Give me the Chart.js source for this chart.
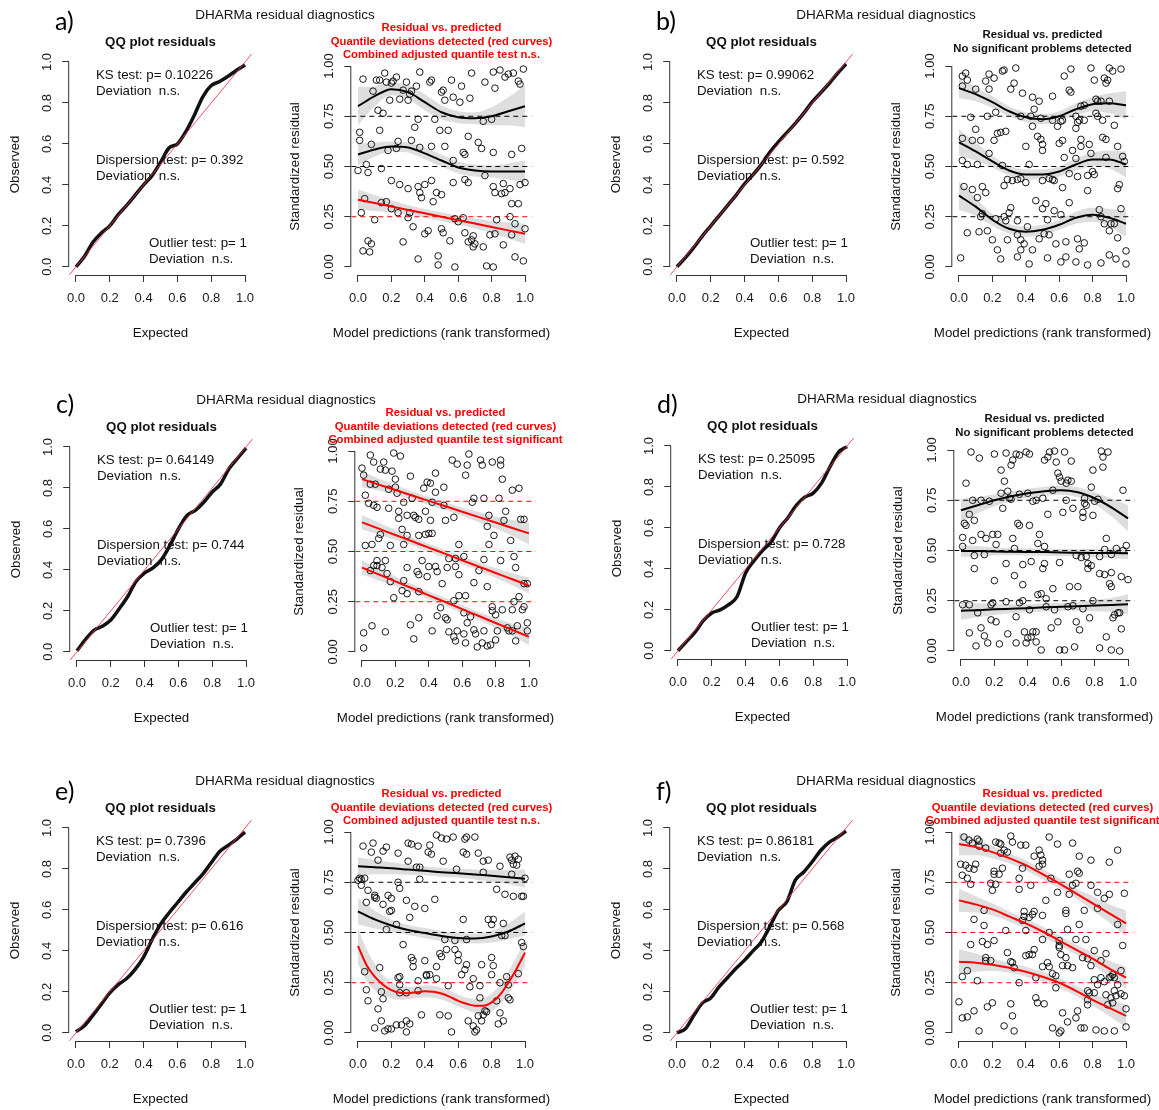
<!DOCTYPE html>
<html lang="en">
<head>
<meta charset="utf-8">
<title>DHARMa residual diagnostics</title>
<script src="https://cdn.jsdelivr.net/npm/chart.js@4.4.1/dist/chart.umd.min.js"></script>
<style>
  html, body { margin: 0; padding: 0; background: #fff; }
  body { width: 1159px; height: 1110px; position: relative; overflow: hidden; font-family: 'Liberation Sans', Arial, sans-serif; color: #111; }
  .panel { position: absolute; width: 560px; height: 345px; }
  .panel canvas { position: absolute; top: 0; }
  .label { position: absolute; white-space: pre; }
  .tag { font-family: Lato, 'Noto Sans', sans-serif; font-size: 25px; line-height: 28px; color: #000; }
  .header { font-size: 13.5px; line-height: 16px; transform: translateX(-50%); }
  .qqTitle { font-size: 13.3px; font-weight: bold; line-height: 16px; transform: translateX(-50%); }
  .resTitle { font-size: 11.3px; font-weight: bold; line-height: 13.5px; text-align: center; transform: translateX(-50%); }
  .axisTitle { font-size: 13.3px; line-height: 16px; transform: translateX(-50%); }
  .note { font-size: 13.3px; line-height: 16px; }
</style>
</head>
<body>
<script>
const AXIS_MIN = -0.04;
const AXIS_MAX = 1.04;
const FONT = "'Liberation Sans', Arial, sans-serif";

const qqExpected = [0, 0.05, 0.1, 0.15, 0.2, 0.25, 0.3, 0.35, 0.4, 0.45, 0.5, 0.55, 0.6, 0.65, 0.7, 0.75, 0.8, 0.85, 0.9, 0.95, 1];
const curveX = [0, 0.1, 0.2, 0.3, 0.4, 0.5, 0.6, 0.7, 0.8, 0.9, 1];
const qqTicks = [0, 0.2, 0.4, 0.6, 0.8, 1];
const resTicks = [0, 0.25, 0.5, 0.75, 1];
const quantileLevels = [0.25, 0.5, 0.75];

// a)
const aTests = ['0.10226', '0.392', '1'];
const aFlagged = [true, false, false];
const aCombined = 'n.s.';
const aQQ = [0, 0.05, 0.12, 0.165, 0.2, 0.255, 0.3, 0.35, 0.4, 0.445, 0.51, 0.58, 0.6, 0.66, 0.74, 0.83, 0.885, 0.905, 0.93, 0.96, 0.985];
const aQ25 = [0.335, 0.318, 0.301, 0.284, 0.267, 0.25, 0.233, 0.216, 0.199, 0.182, 0.165];
const aQ50 = [0.56, 0.585, 0.6, 0.595, 0.565, 0.53, 0.495, 0.48, 0.475, 0.475, 0.475];
const aQ75 = [0.8, 0.85, 0.885, 0.87, 0.82, 0.77, 0.745, 0.74, 0.75, 0.775, 0.8];
const aQ25Band = [0.05, 0.04, 0.03, 0.025, 0.022, 0.022, 0.022, 0.025, 0.03, 0.04, 0.05];
const aQ50Band = [0.055, 0.035, 0.025, 0.025, 0.03, 0.03, 0.03, 0.03, 0.03, 0.04, 0.055];
const aQ75Band = [0.095, 0.05, 0.03, 0.035, 0.04, 0.035, 0.03, 0.03, 0.045, 0.07, 0.105];
const aResiduals = [
  [0.03,0.935],[0.11,0.93],[0.13,0.93],[0.16,0.965],[0.17,0.92],[0.2,0.915],[0.21,0.925],[0.23,0.945],[0.29,0.92],[0.37,0.97],
  [0.43,0.92],[0.44,0.93],[0.51,0.88],[0.56,0.93],[0.62,0.9],[0.68,0.965],[0.76,0.92],[0.81,0.97],[0.85,0.98],[0.82,0.89],
  [0.9,0.96],[0.93,0.965],[0.96,0.925],[0.99,0.985],[0.88,0.945],[0.97,0.91],[0.09,0.875],[0.19,0.83],[0.25,0.835],[0.3,0.83],
  [0.27,0.88],[0.32,0.875],[0.35,0.9],[0.31,0.86],[0.12,0.78],[0.15,0.765],[0.36,0.735],[0.34,0.695],[0.46,0.735],[0.5,0.87],
  [0.52,0.83],[0.57,0.845],[0.61,0.82],[0.67,0.84],[0.75,0.725],[0.8,0.735],[0.13,0.68],[0.01,0.67],[0.01,0.63],[0.08,0.61],
  [0.24,0.625],[0.18,0.58],[0.32,0.63],[0.37,0.595],[0.44,0.6],[0.49,0.68],[0.54,0.68],[0.52,0.6],[0.57,0.53],[0.63,0.57],
  [0.64,0.56],[0.66,0.65],[0.72,0.62],[0.74,0.59],[0.81,0.57],[0.92,0.56],[0.98,0.59],[0.23,0.59],[0,0.48],[0.05,0.51],
  [0.06,0.47],[0.14,0.49],[0.2,0.43],[0.25,0.41],[0.3,0.39],[0.36,0.4],[0.37,0.37],[0.38,0.345],[0.4,0.41],[0.44,0.43],
  [0.45,0.325],[0.47,0.37],[0.5,0.36],[0.57,0.42],[0.64,0.435],[0.66,0.42],[0.76,0.455],[0.81,0.4],[0.82,0.37],[0.87,0.415],
  [0.86,0.365],[0.88,0.37],[0.91,0.39],[0.97,0.41],[1,0.42],[0.92,0.315],[0.96,0.315],[0.02,0.27],[0.04,0.34],[0.1,0.235],
  [0.14,0.32],[0.17,0.325],[0.2,0.29],[0.24,0.27],[0.3,0.245],[0.31,0.27],[0.33,0.2],[0.4,0.165],[0.42,0.18],[0.5,0.19],
  [0.51,0.17],[0.55,0.13],[0.58,0.24],[0.6,0.225],[0.63,0.245],[0.64,0.17],[0.66,0.125],[0.68,0.135],[0.69,0.155],[0.7,0.115],
  [0.69,0.1],[0.75,0.1],[0.79,0.16],[0.82,0.165],[0.83,0.235],[0.91,0.25],[0.92,0.16],[0.94,0.215],[1,0.19],[0.87,0.11],
  [0.03,0.08],[0.07,0.075],[0.06,0.13],[0.08,0.115],[0.27,0.125],[0.36,0.04],[0.48,0.055],[0.48,0.01],[0.58,0],[0.77,0.005],
  [0.81,0],[0.94,0.05],[0.99,0.03]
];

// b)
const bTests = ['0.99062', '0.592', '1'];
const bFlagged = [false, false, false];
const bCombined = null;
const bQQ = [0, 0.045, 0.095, 0.15, 0.2, 0.25, 0.3, 0.35, 0.405, 0.45, 0.5, 0.56, 0.61, 0.655, 0.7, 0.75, 0.805, 0.85, 0.895, 0.945, 0.99];
const bQ25 = [0.355, 0.3, 0.235, 0.19, 0.175, 0.185, 0.21, 0.245, 0.26, 0.245, 0.215];
const bQ50 = [0.62, 0.575, 0.525, 0.48, 0.46, 0.46, 0.475, 0.51, 0.535, 0.535, 0.51];
const bQ75 = [0.89, 0.86, 0.82, 0.775, 0.745, 0.735, 0.75, 0.785, 0.81, 0.815, 0.805];
const bQ25Band = [0.07, 0.045, 0.03, 0.025, 0.025, 0.025, 0.025, 0.03, 0.035, 0.045, 0.065];
const bQ50Band = [0.065, 0.045, 0.03, 0.025, 0.025, 0.025, 0.025, 0.03, 0.035, 0.045, 0.065];
const bQ75Band = [0.05, 0.035, 0.03, 0.025, 0.025, 0.025, 0.025, 0.03, 0.035, 0.05, 0.07];
const bResiduals = [
  [0.02,0.95],[0.04,0.965],[0.05,0.93],[0.02,0.9],[0.1,0.885],[0.16,0.925],[0.18,0.885],[0.18,0.96],[0.21,0.94],[0.26,0.975],
  [0.27,0.98],[0.34,0.99],[0.33,0.915],[0.31,0.885],[0.38,0.865],[0.44,0.845],[0.48,0.825],[0.45,0.785],[0.56,0.85],[0.63,0.95],
  [0.67,0.985],[0.66,0.88],[0.67,0.87],[0.79,0.99],[0.81,0.93],[0.87,0.94],[0.89,0.93],[0.9,0.99],[0.92,0.975],[0.97,0.985],
  [0.88,0.915],[0.82,0.835],[0.83,0.825],[0.85,0.825],[0.9,0.825],[0.73,0.8],[0.75,0.805],[0.22,0.77],[0.07,0.745],[0.17,0.75],
  [0.37,0.75],[0.43,0.75],[0.44,0.7],[0.49,0.74],[0.56,0.73],[0.59,0.7],[0.61,0.725],[0.62,0.73],[0.7,0.75],[0.71,0.72],
  [0.72,0.73],[0.75,0.73],[0.82,0.765],[0.83,0.75],[0.86,0.73],[0.7,0.69],[0.93,0.705],[0.1,0.685],[0.02,0.64],[0.08,0.63],
  [0.13,0.63],[0.23,0.665],[0.25,0.67],[0.28,0.675],[0.21,0.63],[0.18,0.565],[0.02,0.53],[0.05,0.51],[0.11,0.51],[0.4,0.6],
  [0.47,0.65],[0.49,0.635],[0.5,0.61],[0.5,0.58],[0.6,0.615],[0.62,0.63],[0.63,0.545],[0.68,0.58],[0.7,0.54],[0.73,0.635],
  [0.73,0.6],[0.78,0.61],[0.79,0.565],[0.86,0.645],[0.88,0.635],[0.88,0.545],[0.95,0.6],[0.98,0.55],[0.99,0.525],[0.26,0.505],
  [0.42,0.51],[0.27,0.405],[0.29,0.435],[0.32,0.43],[0.35,0.435],[0.37,0.44],[0.4,0.42],[0.5,0.43],[0.54,0.44],[0.56,0.435],
  [0.57,0.43],[0.66,0.465],[0.71,0.45],[0.77,0.455],[0.8,0.475],[0.81,0.46],[0.77,0.38],[0.62,0.395],[0.03,0.4],[0.08,0.385],
  [0.14,0.4],[0.16,0.37],[0.11,0.345],[0.13,0.25],[0.14,0.265],[0.05,0.17],[0.12,0.175],[0.17,0.18],[0.2,0.135],[0.23,0.085],
  [0.22,0.24],[0.27,0.25],[0.3,0.27],[0.31,0.295],[0.28,0.23],[0.29,0.135],[0.35,0.23],[0.35,0.16],[0.37,0.135],[0.37,0.085],
  [0.39,0.115],[0.41,0.2],[0.44,0.085],[0.46,0.33],[0.48,0.14],[0.5,0.29],[0.51,0.165],[0.52,0.315],[0.54,0.16],[0.53,0.235],
  [0.57,0.28],[0.58,0.115],[0.61,0.26],[0.64,0.125],[0.66,0.32],[0.71,0.14],[0.72,0.09],[0.75,0.12],[0.84,0.285],[0.85,0.25],
  [0.87,0.215],[0.9,0.18],[0.91,0.215],[0.93,0.215],[0.95,0.145],[0.95,0.39],[0.96,0.41],[0.97,0.29],[0.94,0.04],[1,0.08],
  [1,0.015],[0.85,0.02],[0.9,0.06],[0.25,0.04],[0.01,0.045],[0.35,0.05],[0.42,0.015],[0.53,0.045],[0.61,0.025],[0.64,0.05],
  [0.7,0.025],[0.77,0.01]
];

// c)
const cTests = ['0.64149', '0.744', '1'];
const cFlagged = [true, true, true];
const cCombined = 'significant';
const cQQ = [0.005, 0.06, 0.105, 0.125, 0.155, 0.21, 0.27, 0.345, 0.385, 0.41, 0.45, 0.52, 0.6, 0.665, 0.69, 0.73, 0.78, 0.82, 0.895, 0.945, 0.995];
const cQ25 = [0.42, 0.386, 0.351, 0.317, 0.282, 0.248, 0.213, 0.179, 0.144, 0.11, 0.075];
const cQ50 = [0.645, 0.614, 0.582, 0.551, 0.519, 0.488, 0.456, 0.425, 0.393, 0.362, 0.33];
const cQ75 = [0.86, 0.833, 0.806, 0.779, 0.752, 0.725, 0.698, 0.671, 0.644, 0.617, 0.59];
const cQ25Band = [0.035, 0.03, 0.025, 0.02, 0.02, 0.02, 0.02, 0.02, 0.025, 0.03, 0.04];
const cQ50Band = [0.035, 0.03, 0.025, 0.02, 0.02, 0.02, 0.02, 0.02, 0.025, 0.03, 0.04];
const cQ75Band = [0.04, 0.03, 0.025, 0.02, 0.02, 0.02, 0.02, 0.025, 0.03, 0.04, 0.055];
const cResiduals = [
  [0,0.915],[0.01,0.88],[0.05,0.98],[0.07,0.945],[0.11,0.91],[0.13,0.945],[0.14,0.905],[0.18,0.9],[0.19,0.99],[0.23,0.975],
  [0.29,0.875],[0.41,0.84],[0.44,0.89],[0.49,0.82],[0.54,0.955],[0.57,0.935],[0.62,0.88],[0.64,0.985],[0.63,0.93],[0.71,0.955],
  [0.72,0.93],[0.78,0.945],[0.83,0.955],[0.83,0.93],[0.84,0.86],[0.9,0.805],[0.94,0.815],[0.97,0.66],[0.95,0.66],[0.2,0.86],
  [0.2,0.82],[0.21,0.79],[0.25,0.745],[0.3,0.765],[0.37,0.815],[0.39,0.845],[0.42,0.745],[0.44,0.795],[0.49,0.73],[0.5,0.655],
  [0.55,0.67],[0.02,0.78],[0.05,0.835],[0.08,0.835],[0.04,0.74],[0.07,0.73],[0.09,0.72],[0.16,0.81],[0.16,0.715],[0.22,0.7],
  [0.22,0.665],[0.24,0.61],[0.27,0.58],[0.27,0.68],[0.31,0.68],[0.32,0.67],[0.34,0.66],[0.34,0.58],[0.38,0.585],[0.4,0.59],
  [0.42,0.59],[0.38,0.7],[0.41,0.655],[0.66,0.745],[0.67,0.765],[0.73,0.765],[0.82,0.765],[0.76,0.68],[0.86,0.7],[0.85,0.655],
  [0.75,0.625],[0.79,0.58],[0.76,0.535],[0.89,0.555],[0.91,0.475],[0.02,0.53],[0.06,0.535],[0.11,0.585],[0.1,0.565],[0.17,0.53],
  [0.25,0.535],[0.09,0.455],[0.14,0.455],[0.09,0.43],[0.07,0.43],[0.12,0.42],[0.15,0.39],[0.05,0.405],[0.17,0.35],[0.19,0.27],
  [0.24,0.305],[0.25,0.355],[0.27,0.29],[0.27,0.42],[0.33,0.4],[0.34,0.385],[0.34,0.3],[0.36,0.455],[0.4,0.425],[0.39,0.375],
  [0.44,0.425],[0.45,0.4],[0.48,0.34],[0.51,0.42],[0.52,0.465],[0.56,0.425],[0.58,0.385],[0.61,0.475],[0.58,0.535],[0.56,0.465],
  [0.67,0.345],[0.7,0.405],[0.73,0.46],[0.75,0.325],[0.83,0.455],[0.92,0.42],[0.99,0.34],[0.97,0.34],[0.62,0.28],[0.55,0.255],
  [0.58,0.28],[0.78,0.225],[0.78,0.205],[0.8,0.185],[0.84,0.21],[0.9,0.21],[0.97,0.225],[0.96,0.21],[0.94,0.275],[0.91,0.25],
  [0.47,0.22],[0.45,0.18],[0.5,0.17],[0.51,0.16],[0.34,0.17],[0.29,0.135],[0.42,0.105],[0.06,0.13],[0.14,0.1],[0.01,0.095],
  [0.01,0.02],[0.31,0.065],[0.52,0.1],[0.55,0.075],[0.56,0.055],[0.57,0.105],[0.61,0.09],[0.62,0.045],[0.65,0.175],[0.67,0.11],
  [0.68,0.09],[0.73,0.105],[0.69,0.025],[0.72,0.045],[0.75,0.03],[0.77,0.035],[0.8,0.06],[0.81,0.105],[0.87,0.12],[0.88,0.105],
  [0.9,0.105],[0.92,0.055],[0.93,0.13],[0.99,0.145],[0.99,0.105],[0.61,0.195],[0.63,0.145]
];

// d)
const dTests = ['0.25095', '0.728', '1'];
const dFlagged = [false, false, false];
const dCombined = null;
const dQQ = [0, 0.045, 0.09, 0.147, 0.185, 0.2, 0.225, 0.265, 0.38, 0.44, 0.49, 0.53, 0.6, 0.65, 0.71, 0.75, 0.77, 0.82, 0.9, 0.97, 0.997];
const dQ25 = [0.2, 0.203, 0.207, 0.21, 0.213, 0.217, 0.22, 0.223, 0.226, 0.229, 0.232];
const dQ50 = [0.498, 0.497, 0.495, 0.494, 0.493, 0.492, 0.49, 0.489, 0.488, 0.487, 0.486];
const dQ75 = [0.7, 0.725, 0.75, 0.77, 0.785, 0.795, 0.8, 0.79, 0.76, 0.715, 0.66];
const dQ25Band = [0.045, 0.035, 0.028, 0.022, 0.02, 0.02, 0.02, 0.022, 0.028, 0.035, 0.05];
const dQ50Band = [0.03, 0.025, 0.02, 0.018, 0.018, 0.018, 0.018, 0.018, 0.02, 0.025, 0.03];
const dQ75Band = [0.058, 0.04, 0.03, 0.025, 0.022, 0.022, 0.022, 0.025, 0.03, 0.045, 0.065];
const dResiduals = [
  [0.06,0.99],[0.11,0.96],[0.2,0.98],[0.27,0.985],[0.33,0.98],[0.35,0.975],[0.39,0.99],[0.41,0.98],[0.53,0.99],[0.56,0.995],
  [0.57,0.94],[0.62,0.99],[0.66,0.945],[0.84,0.995],[0.88,0.99],[0.85,0.965],[0.5,0.95],[0.52,0.965],[0.31,0.95],[0.3,0.925],
  [0.24,0.9],[0.26,0.845],[0.03,0.835],[0.58,0.885],[0.59,0.865],[0.6,0.845],[0.64,0.85],[0.63,0.835],[0.66,0.845],[0.79,0.9],
  [0.78,0.815],[0.85,0.915],[0.97,0.8],[0.24,0.785],[0.28,0.795],[0.29,0.76],[0.3,0.755],[0.35,0.78],[0.4,0.785],[0.45,0.75],
  [0.43,0.745],[0.49,0.76],[0.07,0.75],[0.12,0.75],[0.17,0.745],[0.05,0.68],[0.08,0.65],[0.25,0.71],[0.55,0.8],[0.63,0.75],
  [0.74,0.76],[0.8,0.745],[0.82,0.755],[0.74,0.735],[0.75,0.725],[0.67,0.71],[0.73,0.69],[0.73,0.665],[0.79,0.675],[0.52,0.68],
  [0.61,0.69],[0.03,0.625],[0.02,0.635],[0.01,0.565],[0.01,0.52],[0.07,0.55],[0.12,0.58],[0.15,0.56],[0.19,0.58],[0.22,0.58],
  [0.21,0.53],[0.31,0.56],[0.34,0.635],[0.35,0.625],[0.41,0.625],[0.47,0.58],[0.46,0.535],[0.5,0.52],[0.32,0.51],[0.08,0.475],
  [0.14,0.48],[0.69,0.475],[0.72,0.465],[0.75,0.47],[0.83,0.47],[0.9,0.48],[0.87,0.56],[0.86,0.505],[0.93,0.51],[0.99,0.525],
  [0.97,0.5],[0.27,0.435],[0.37,0.43],[0.42,0.445],[0.5,0.435],[0.49,0.41],[0.59,0.44],[0.76,0.435],[0.78,0.425],[0.76,0.41],
  [0.83,0.385],[0.86,0.38],[0.9,0.39],[0.89,0.335],[0.9,0.32],[0.96,0.37],[1,0.355],[0.32,0.375],[0.37,0.33],[0.08,0.41],
  [0.2,0.35],[0.55,0.31],[0.65,0.32],[0.7,0.32],[0.46,0.28],[0.48,0.285],[0.51,0.26],[0.01,0.23],[0.05,0.23],[0.1,0.19],
  [0.18,0.23],[0.19,0.24],[0.27,0.245],[0.35,0.24],[0.37,0.25],[0.41,0.205],[0.33,0.17],[0.12,0.115],[0.18,0.155],[0.21,0.145],
  [0.14,0.075],[0.05,0.09],[0.09,0.025],[0.16,0.04],[0.23,0.035],[0.28,0.085],[0.33,0.04],[0.39,0.04],[0.38,0.095],[0.4,0.065],
  [0.43,0.095],[0.45,0.095],[0.42,0.07],[0.45,0.045],[0.48,0.005],[0.54,0.115],[0.58,0.145],[0.59,0.005],[0.62,0.005],[0.68,0.02],
  [0.69,0.145],[0.71,0.105],[0.64,0.22],[0.67,0.225],[0.73,0.21],[0.77,0.165],[0.79,0.25],[0.91,0.165],[0.92,0.18],[0.94,0.19],
  [0.95,0.19],[0.96,0.11],[0.87,0.07],[0.83,0.015],[0.9,0.005],[0.95,0],[0.51,0.22],[0.56,0.205]
];

// e)
const eTests = ['0.7396', '0.616', '1'];
const eFlagged = [true, false, false];
const eCombined = 'n.s.';
const eQQ = [0.005, 0.035, 0.085, 0.14, 0.195, 0.235, 0.265, 0.31, 0.37, 0.455, 0.53, 0.585, 0.635, 0.685, 0.73, 0.775, 0.83, 0.885, 0.915, 0.945, 0.98];
const eQ25 = [0.433, 0.34, 0.28, 0.24, 0.213, 0.2, 0.198, 0.203, 0.207, 0.205, 0.196, 0.18, 0.16, 0.145, 0.135, 0.135, 0.152, 0.19, 0.25, 0.32, 0.4];
const eQ50 = [0.605, 0.565, 0.535, 0.512, 0.497, 0.483, 0.473, 0.47, 0.48, 0.505, 0.545];
const eQ75 = [0.83, 0.825, 0.82, 0.813, 0.807, 0.8, 0.795, 0.789, 0.782, 0.775, 0.768];
const eQ25Band = [0.09, 0.08, 0.065, 0.05, 0.04, 0.035, 0.03, 0.03, 0.03, 0.03, 0.03, 0.03, 0.03, 0.03, 0.035, 0.04, 0.045, 0.05, 0.055, 0.06, 0.065];
const eQ50Band = [0.065, 0.045, 0.03, 0.025, 0.025, 0.025, 0.025, 0.025, 0.03, 0.04, 0.06];
const eQ75Band = [0.045, 0.035, 0.03, 0.025, 0.022, 0.022, 0.022, 0.025, 0.03, 0.035, 0.045];
const eResiduals = [
  [0.03,0.93],[0.09,0.945],[0.08,0.9],[0.15,0.905],[0.17,0.925],[0.12,0.86],[0.24,0.895],[0.3,0.855],[0.3,0.945],[0.32,0.94],
  [0.36,0.93],[0.35,0.825],[0.37,0.825],[0.43,0.935],[0.42,0.9],[0.44,0.89],[0.47,0.985],[0.5,0.97],[0.53,0.965],[0.57,0.975],
  [0.51,0.855],[0.59,0.815],[0.63,0.9],[0.65,0.975],[0.64,0.965],[0.65,0.89],[0.7,0.975],[0.72,0.895],[0.75,0.855],[0.78,0.86],
  [0.75,0.8],[0.85,0.83],[0.91,0.875],[0.94,0.88],[0.92,0.86],[0.93,0.84],[0.95,0.835],[0.96,0.865],[0.92,0.79],[1,0.77],
  [0.01,0.77],[0.02,0.765],[0.04,0.77],[0,0.76],[0.02,0.735],[0.06,0.71],[0.05,0.65],[0.1,0.685],[0.1,0.675],[0.11,0.67],
  [0.18,0.685],[0.2,0.67],[0.24,0.75],[0.37,0.765],[0.25,0.72],[0.29,0.66],[0.2,0.61],[0.19,0.605],[0.15,0.64],[0.34,0.63],
  [0.4,0.62],[0.46,0.665],[0.31,0.575],[0.23,0.54],[0.17,0.515],[0.63,0.565],[0.78,0.565],[0.81,0.565],[0.87,0.545],[0.8,0.54],
  [0.98,0.68],[0.93,0.68],[0.99,0.68],[0.88,0.69],[0.83,0.715],[0.86,0.485],[0.88,0.485],[0.98,0.45],[0.99,0.43],[0.52,0.465],
  [0.58,0.46],[0.65,0.465],[0.27,0.44],[0.32,0.375],[0.33,0.36],[0.33,0.33],[0.4,0.36],[0.41,0.29],[0.43,0.29],[0.47,0.33],
  [0.49,0.395],[0.5,0.38],[0.53,0.415],[0.58,0.415],[0.6,0.39],[0.6,0.36],[0.62,0.29],[0.64,0.315],[0.65,0.34],[0.69,0.27],
  [0.74,0.34],[0.8,0.375],[0.8,0.29],[0.81,0.335],[0.89,0.28],[0.96,0.295],[0.04,0.305],[0.13,0.325],[0.24,0.275],[0.25,0.28],
  [0.25,0.24],[0.36,0.26],[0.41,0.285],[0.47,0.27],[0.54,0.235],[0.67,0.23],[0.73,0.235],[0.85,0.25],[0.05,0.215],[0.06,0.16],
  [0.14,0.205],[0.15,0.17],[0.25,0.2],[0.29,0.2],[0.36,0.21],[0.12,0.12],[0.14,0.06],[0.1,0.025],[0.16,0.01],[0.18,0.02],
  [0.2,0.02],[0.23,0.04],[0.26,0.04],[0.29,0.06],[0.29,0.005],[0.31,0.045],[0.38,0.09],[0.49,0.09],[0.54,0.085],[0.56,0.005],
  [0.66,0.06],[0.69,0.035],[0.7,0.005],[0.71,0.015],[0.74,0.06],[0.72,0.085],[0.75,0.09],[0.76,0.11],[0.77,0.105],[0.83,0.16],
  [0.85,0.1],[0.84,0.045],[0.87,0.06],[0.9,0.175],[0.91,0.165],[0.9,0.24],[0.73,0.175]
];

// f)
const fTests = ['0.86181', '0.568', '1'];
const fFlagged = [true, true, true];
const fCombined = 'significant';
const fQQ = [0, 0.02, 0.085, 0.145, 0.17, 0.225, 0.27, 0.315, 0.355, 0.4, 0.445, 0.52, 0.598, 0.64, 0.745, 0.785, 0.835, 0.89, 0.93, 0.955, 0.985];
const fQ25 = [0.355, 0.35, 0.34, 0.325, 0.305, 0.28, 0.25, 0.21, 0.165, 0.125, 0.085];
const fQ50 = [0.66, 0.64, 0.615, 0.58, 0.545, 0.505, 0.46, 0.415, 0.37, 0.32, 0.275];
const fQ75 = [0.94, 0.925, 0.9, 0.87, 0.835, 0.79, 0.745, 0.695, 0.645, 0.595, 0.545];
const fQ25Band = [0.063, 0.045, 0.03, 0.025, 0.025, 0.025, 0.025, 0.025, 0.03, 0.04, 0.058];
const fQ50Band = [0.058, 0.04, 0.03, 0.025, 0.025, 0.025, 0.025, 0.025, 0.03, 0.04, 0.055];
const fQ75Band = [0.055, 0.04, 0.03, 0.025, 0.025, 0.025, 0.025, 0.025, 0.035, 0.045, 0.065];
const fResiduals = [
  [0.03,0.975],[0.06,0.96],[0.08,0.945],[0.11,0.965],[0.12,0.955],[0.12,0.93],[0.16,0.92],[0.22,0.95],[0.24,0.945],[0.25,0.94],
  [0.27,0.91],[0.25,0.895],[0.29,0.9],[0.31,0.98],[0.32,0.95],[0.37,0.935],[0.4,0.935],[0.48,0.91],[0.49,0.885],[0.45,0.88],
  [0.5,0.86],[0.54,0.975],[0.59,0.94],[0.68,0.945],[0.72,0.88],[0.79,0.86],[0.9,0.85],[0.95,0.91],[0.01,0.84],[0.04,0.835],
  [0.06,0.82],[0.09,0.815],[0.1,0.84],[0.02,0.785],[0.05,0.77],[0.21,0.805],[0.21,0.79],[0.24,0.79],[0.26,0.82],[0.36,0.77],
  [0.38,0.82],[0.36,0.715],[0.43,0.735],[0.48,0.83],[0.5,0.84],[0.55,0.77],[0.52,0.66],[0.59,0.7],[0.66,0.69],[0.66,0.79],
  [0.71,0.805],[0.72,0.795],[0.7,0.745],[0.68,0.735],[0.79,0.735],[0.83,0.7],[0.83,0.62],[0.87,0.67],[0.9,0.69],[0.95,0.54],
  [0.99,0.695],[0.07,0.74],[0.19,0.745],[0.22,0.74],[0.2,0.71],[0.15,0.61],[0.09,0.565],[0.15,0.535],[0.17,0.44],[0.21,0.46],
  [0.28,0.51],[0.39,0.58],[0.39,0.605],[0.38,0.56],[0.4,0.51],[0.44,0.59],[0.42,0.575],[0.45,0.605],[0.5,0.585],[0.5,0.465],
  [0.54,0.5],[0.6,0.46],[0.6,0.435],[0.64,0.61],[0.64,0.595],[0.65,0.515],[0.68,0.325],[0.7,0.465],[0.72,0.54],[0.75,0.61],
  [0.76,0.465],[0.81,0.41],[0.85,0.36],[0.88,0.395],[0.91,0.28],[0.92,0.29],[0.97,0.31],[0.98,0.435],[0.14,0.455],[0.07,0.44],
  [0.02,0.28],[0.05,0.31],[0.11,0.26],[0.16,0.375],[0.16,0.36],[0.19,0.36],[0.29,0.4],[0.31,0.355],[0.32,0.35],[0.33,0.325],
  [0.36,0.25],[0.4,0.385],[0.42,0.39],[0.44,0.39],[0.45,0.415],[0.46,0.275],[0.5,0.33],[0.53,0.35],[0.54,0.33],[0.56,0.295],
  [0.58,0.285],[0.58,0.225],[0.6,0.425],[0.61,0.39],[0.64,0.375],[0.65,0.335],[0.62,0.335],[0.74,0.375],[0.77,0.37],[0.79,0.335],
  [0.85,0.275],[0.87,0.255],[0.9,0.275],[0.93,0.275],[0.95,0.24],[0.77,0.21],[0.78,0.2],[0.81,0.265],[0.83,0.24],[0.93,0.21],
  [0.94,0.185],[0.99,0.185],[0.97,0.195],[0.88,0.19],[0.89,0.14],[0.92,0.15],[0.77,0.165],[0.77,0.14],[0.81,0.2],[0.7,0.075],
  [0.65,0.055],[0.73,0.025],[0.75,0.025],[0.82,0.015],[0.87,0.01],[0.93,0.01],[1,0.03],[1,0.12],[0.91,0.175],[0.6,0],
  [0.61,0.01],[0.56,0.025],[0.46,0.175],[0.47,0.15],[0.51,0.145],[0.31,0.145],[0.32,0.085],[0.27,0.035],[0.2,0.15],[0.17,0.13],
  [0.09,0.11],[0.05,0.08],[0.02,0.075],[0,0.155],[0.12,0.01],[0.33,0.01],[0.62,0.1],[0.71,0.11]
];

const panels = [
  { tag: 'a)', left: 0, top: 0, tagTop: 6, shift: 0, tests: aTests, flagged: aFlagged, combined: aCombined, qq: aQQ,
    quant: [aQ25, aQ50, aQ75], band: [aQ25Band, aQ50Band, aQ75Band], residuals: aResiduals },
  { tag: 'b)', left: 601, top: 0, tagTop: 6, shift: 0, tests: bTests, flagged: bFlagged, combined: bCombined, qq: bQQ,
    quant: [bQ25, bQ50, bQ75], band: [bQ25Band, bQ50Band, bQ75Band], residuals: bResiduals },
  { tag: 'c)', left: 1, top: 385, tagTop: 4, shift: 3, tests: cTests, flagged: cFlagged, combined: cCombined, qq: cQQ,
    quant: [cQ25, cQ50, cQ75], band: [cQ25Band, cQ50Band, cQ75Band], residuals: cResiduals },
  { tag: 'd)', left: 602, top: 384, tagTop: 5, shift: 1, tests: dTests, flagged: dFlagged, combined: dCombined, qq: dQQ,
    quant: [dQ25, dQ50, dQ75], band: [dQ25Band, dQ50Band, dQ75Band], residuals: dResiduals },
  { tag: 'e)', left: 0, top: 766, tagTop: 10, shift: 0, tests: eTests, flagged: eFlagged, combined: eCombined, qq: eQQ,
    quant: [eQ25, eQ50, eQ75], band: [eQ25Band, eQ50Band, eQ75Band], residuals: eResiduals },
  { tag: 'f)', left: 601, top: 766, tagTop: 10, shift: 0, tests: fTests, flagged: fFlagged, combined: fCombined, qq: fQQ,
    quant: [fQ25, fQ50, fQ75], band: [fQ25Band, fQ50Band, fQ75Band], residuals: fResiduals }
];

// R style axis line: only from the first to the last tick
const rAxisLines = {
  id: 'rAxisLines',
  afterDraw(chart) {
    const { ctx, chartArea, scales: { x, y } } = chart;
    ctx.save();
    ctx.strokeStyle = '#333';
    ctx.lineWidth = 1;
    ctx.beginPath();
    ctx.moveTo(x.getPixelForValue(0), chartArea.bottom + 0.5);
    ctx.lineTo(x.getPixelForValue(1), chartArea.bottom + 0.5);
    ctx.moveTo(chartArea.left - 0.5, y.getPixelForValue(0));
    ctx.lineTo(chartArea.left - 0.5, y.getPixelForValue(1));
    ctx.stroke();
    ctx.restore();
  }
};

const buildAxis = (ticks, digits, title, isY, size, tickPad) => ({
  type: 'linear',
  min: AXIS_MIN,
  max: AXIS_MAX,
  afterBuildTicks: scale => { scale.ticks = ticks.map(v => ({ value: v })); },
  afterFit: scale => { if (isY) { scale.width = size; } else { scale.height = size; } },
  ticks: isY
    ? { callback: v => v.toFixed(digits), color: '#1a1a1a', font: { family: FONT, size: 13 }, minRotation: 90, maxRotation: 90, crossAlign: 'center', padding: tickPad, autoSkip: false }
    : { callback: v => v.toFixed(digits), color: '#1a1a1a', font: { family: FONT, size: 13 }, maxRotation: 0, padding: 9, autoSkip: false },
  grid: { drawOnChartArea: false, drawTicks: true, tickLength: 7, color: '#333', lineWidth: 1 },
  border: { display: false },
  title: {
    display: Boolean(title),
    text: title || '',
    color: '#111',
    font: { family: FONT, size: 13.3 },
    padding: isY ? { top: 7.5, bottom: 0 } : { top: 0, bottom: 4 }
  }
});

const baseOptions = (padding, xAxis, yAxis) => ({
  responsive: false,
  animation: false,
  events: [],
  layout: { padding },
  plugins: { legend: { display: false }, tooltip: { enabled: false } },
  scales: { x: xAxis, y: yAxis }
});

const makeCanvas = (parent, left, width) => {
  const canvas = document.createElement('canvas');
  canvas.width = width;
  canvas.height = 345;
  canvas.style.left = left + 'px';
  canvas.style.width = width + 'px';
  canvas.style.height = '345px';
  parent.appendChild(canvas);
  return canvas;
};

const addLabel = (parent, text, cls, left, top, colour) => {
  const el = document.createElement('div');
  el.className = 'label ' + cls;
  el.textContent = text;
  el.style.left = left + 'px';
  el.style.top = top + 'px';
  if (colour) el.style.color = colour;
  parent.appendChild(el);
  return el;
};

const buildQQChart = (canvas, p) => new Chart(canvas, {
  type: 'scatter',
  data: {
    datasets: [
      { data: [{ x: AXIS_MIN, y: AXIS_MIN }, { x: AXIS_MAX, y: AXIS_MAX }], showLine: true, borderColor: 'rgba(235,50,70,0.85)', borderWidth: 1, pointRadius: 0, order: 0 },
      { data: qqExpected.map((e, i) => ({ x: e, y: p.qq[i] })), showLine: true, borderColor: '#111', borderWidth: 3.5, pointRadius: 0, cubicInterpolationMode: 'monotone', order: 1 }
    ]
  },
  options: baseOptions({ top: 53.8, right: 38.2 },
    buildAxis(qqTicks, 1, 'Expected', false, 70),
    buildAxis(qqTicks, 1, 'Observed', true, 69.2, 6)),
  plugins: [rAxisLines]
});

const residualDatasets = p => {
  const sets = [];
  quantileLevels.forEach((level, k) => {
    const colour = p.flagged[k] ? '#ff0000' : '#000000';
    const vals = p.quant[k];
    const half = p.band[k];
    const xs = vals.length === qqExpected.length ? qqExpected : curveX;
    sets.push({ data: [{ x: AXIS_MIN, y: level }, { x: AXIS_MAX, y: level }], showLine: true, borderColor: colour, borderWidth: 1, borderDash: [5, 4], pointRadius: 0, order: 3 });
    sets.push({ data: xs.map((x, i) => ({ x, y: vals[i] + half[i] })), showLine: true, borderColor: 'transparent', borderWidth: 0, pointRadius: 0,
      fill: '+1', backgroundColor: 'rgba(0,0,0,0.13)', cubicInterpolationMode: 'monotone', order: 4 });
    sets.push({ data: xs.map((x, i) => ({ x, y: vals[i] - half[i] })), showLine: true, borderColor: 'transparent', borderWidth: 0, pointRadius: 0,
      fill: false, cubicInterpolationMode: 'monotone', order: 4 });
    sets.push({ data: xs.map((x, i) => ({ x, y: vals[i] })), showLine: true, borderColor: colour, borderWidth: 2, pointRadius: 0, cubicInterpolationMode: 'monotone', order: 1 });
  });
  sets.push({ data: p.residuals.map(([x, y]) => ({ x, y })), pointStyle: 'circle', pointRadius: 3.3, borderWidth: 0.9, borderColor: '#000', backgroundColor: 'transparent', order: 2 });
  return sets;
};

// the x title is wider than the plot, so it is placed as a label (Chart.js would squeeze it)
const buildResidualChart = (canvas, p) => new Chart(canvas, {
  type: 'scatter',
  data: { datasets: residualDatasets(p) },
  options: baseOptions({ top: 58, right: 28.3 },
    buildAxis(qqTicks, 1, null, false, 70),
    buildAxis(resTicks, 2, 'Standardized residual', true, 71.3, 2)),
  plugins: [rAxisLines]
});

panels.forEach(p => {
  const panel = document.createElement('div');
  panel.className = 'panel';
  panel.style.left = p.left + 'px';
  panel.style.top = p.top + 'px';
  document.body.appendChild(panel);

  const qqCanvas = makeCanvas(panel, 0, 290);
  const resCanvas = makeCanvas(panel, 280 + p.shift, 280);
  buildQQChart(qqCanvas, p);
  buildResidualChart(resCanvas, p);

  addLabel(panel, p.tag, 'tag', 55, p.tagTop);
  addLabel(panel, 'DHARMa residual diagnostics', 'header', 285, 7);
  addLabel(panel, 'QQ plot residuals', 'qqTitle', 160.5, 34);
  addLabel(panel, `KS test: p= ${p.tests[0]}\nDeviation  n.s.`, 'note', 96, 67);
  addLabel(panel, `Dispersion test: p= ${p.tests[1]}\nDeviation  n.s.`, 'note', 96, 152);
  addLabel(panel, `Outlier test: p= ${p.tests[2]}\nDeviation  n.s.`, 'note', 149, 235);
  addLabel(panel, 'Model predictions (rank transformed)', 'axisTitle', 441.5 + p.shift, 325);

  const flagged = p.flagged.some(Boolean);
  const titleText = flagged
    ? `Residual vs. predicted\nQuantile deviations detected (red curves)\nCombined adjusted quantile test ${p.combined}`
    : 'Residual vs. predicted\nNo significant problems detected';
  addLabel(panel, titleText, 'resTitle', 441.5 + p.shift, flagged ? 21.2 : 28.2, flagged ? '#ff0000' : '#111');
});
</script>
</body>
</html>
